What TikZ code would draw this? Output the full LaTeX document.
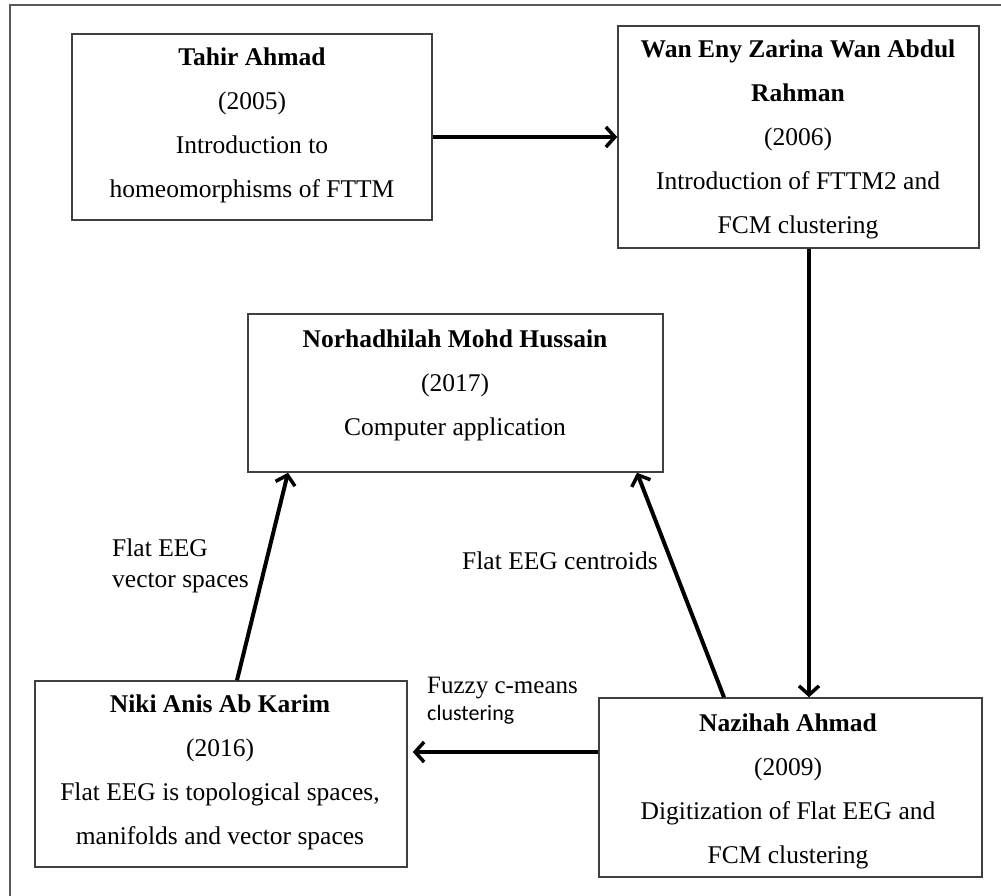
\documentclass[tikz,border=0pt]{standalone}
\usepackage{fontspec}
\setmainfont{Liberation Serif}
\newfontfamily\tnrfont{Liberation Serif}
\newfontfamily\carlitofont{Carlito}
\usetikzlibrary{arrows.meta,calc}
\begin{document}
\begin{tikzpicture}[x=1pt,y=-1pt,
  box/.style={draw=black!75, line width=1.5pt, fill=white, inner sep=0pt},
  boxtext/.style={align=center, inner sep=0pt, font=\tnrfont\fontsize{25.5}{44}\selectfont},
  lbl/.style={inner sep=0pt, anchor=base west, font=\tnrfont\fontsize{25.5}{31}\selectfont},
  arr/.style={line width=4pt, -{Straight Barb[length=9pt,width=20pt,line width=3.5pt]}},
  arrthick/.style={arr, line width=4.8pt},
  framestyle/.style={draw=black!65, line width=1.5pt}]
\useasboundingbox (0,0) rectangle (1001,896);
\draw[framestyle] (1001,5) -- (10,5) -- (10,896);

% boxes
\node[box, minimum width=360pt, minimum height=186pt] (tahir) at (252,127) {};
\node[box, minimum width=361pt, minimum height=222pt] (wan) at (798.5,137) {};
\node[box, minimum width=415pt, minimum height=158pt] (norh) at (455.5,393) {};
\node[box, minimum width=372pt, minimum height=186pt] (niki) at (221,774) {};
\node[box, minimum width=383pt, minimum height=179pt] (naz) at (790.5,787.5) {};

% box texts
\node[boxtext] (tahirT) at (252,125) {\textbf{Tahir Ahmad}\\(2005)\\Introduction to\\homeomorphisms of FTTM};
\node[boxtext] (wanT) at (798,139.5) {\textbf{Wan Eny Zarina Wan Abdul}\\\textbf{Rahman}\\(2006)\\Introduction of FTTM2 and\\FCM clustering};
\node[boxtext] (norhT) at (455,385) {\textbf{Norhadhilah Mohd Hussain}\\(2017)\\Computer application};
\node[boxtext] (nikiT) at (220,772) {\textbf{Niki Anis Ab Karim}\\(2016)\\Flat EEG is topological spaces,\\manifolds and vector spaces};
\node[boxtext] (nazT) at (788,791) {\textbf{Nazihah Ahmad}\\(2009)\\Digitization of Flat EEG and\\FCM clustering};

% connector labels
\node[lbl] (lblA1) at (112,556) {Flat EEG};
\node[lbl] (lblA2) at (112,587) {vector spaces};
\node[lbl] (lblB) at (462,569) {Flat EEG centroids};
\node[lbl, font=\tnrfont\fontsize{25}{30}\selectfont] (lblC1) at (427,693) {Fuzzy c-means};
\node[lbl, font=\carlitofont\fontsize{22}{26}\selectfont] (lblC2) at (427,720) {clustering};

% connectors
\draw[arrthick] (tahir.east |- wan.west) -- (wan.west);
\coordinate (vtop) at ([xshift=10.5pt]wan.south);
\draw[arr] (vtop) -- (vtop |- naz.north);
\coordinate (hstart) at ([yshift=35.5pt]naz.west);
\draw[arrthick] (hstart) -- ([xshift=5pt]hstart -| niki.east);
\draw[arr] ([xshift=16pt]niki.north) -- ([xshift=-167.5pt]norh.south);
\draw[arr] ([xshift=-66.5pt]naz.north) -- ([xshift=181.5pt]norh.south);
\end{tikzpicture}
\end{document}
